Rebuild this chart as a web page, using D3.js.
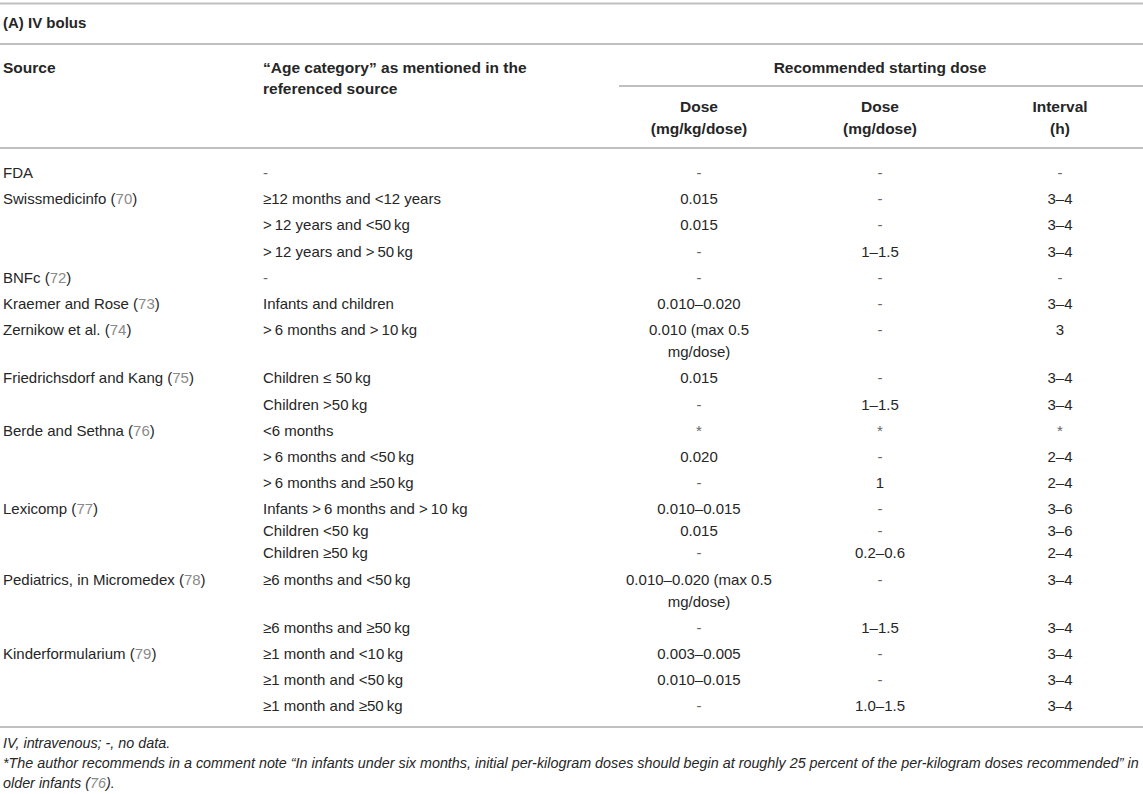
<!DOCTYPE html>
<html>
<head>
<meta charset="utf-8">
<script src="https://cdn.jsdelivr.net/npm/d3@7"></script>
<style>
  html, body { margin: 0; padding: 0; background: #fff; }
  svg { display: block; }
  text { font-family: "Liberation Sans", Arial, Helvetica, sans-serif; }
</style>
</head>
<body>
<svg id="chart" width="1143" height="794"></svg>
<script>
// ---- data ----
const title = "(A) IV bolus";
const headerSource = ["Source"];
const headerAge = ["\u201CAge category\u201D as mentioned in the", "referenced source"];
const headerGroup = "Recommended starting dose";
const headerCols = [["Dose", "(mg/kg/dose)"], ["Dose", "(mg/dose)"], ["Interval", "(h)"]];

// source names and reference numbers (only on first sub-row of each source)
const sourceNames = ["FDA", "Swissmedicinfo", "", "", "BNFc", "Kraemer and Rose", "Zernikow et al.",
  "Friedrichsdorf and Kang", "", "Berde and Sethna", "", "", "Lexicomp", "Pediatrics, in Micromedex", "",
  "Kinderformularium", "", ""];
const sourceRefs = ["", "70", "", "", "72", "73", "74", "75", "", "76", "", "", "77", "78", "", "79", "", ""];
const ageCategories = [
  ["-"],
  ["\u226512 months and <12 years"],
  [">\u200912 years and <50\u2009kg"],
  [">\u200912 years and >\u200950\u2009kg"],
  ["-"],
  ["Infants and children"],
  [">\u20096 months and >\u200910\u2009kg"],
  ["Children \u2264 50\u2009kg"],
  ["Children >50\u2009kg"],
  ["<6 months"],
  [">\u20096 months and <50\u2009kg"],
  [">\u20096 months and \u226550\u2009kg"],
  ["Infants >\u20096 months and >\u200910 kg", "Children <50 kg", "Children \u226550 kg"],
  ["\u22656 months and <50\u2009kg"],
  ["\u22656 months and \u226550\u2009kg"],
  ["\u22651 month and <10\u2009kg"],
  ["\u22651 month and <50\u2009kg"],
  ["\u22651 month and \u226550\u2009kg"]
];
const dosePerKg = [
  ["-"], ["0.015"], ["0.015"], ["-"], ["-"], ["0.010\u20130.020"], ["0.010 (max 0.5", "mg/dose)"],
  ["0.015"], ["-"], ["*"], ["0.020"], ["-"], ["0.010\u20130.015", "0.015", "-"],
  ["0.010\u20130.020 (max 0.5", "mg/dose)"], ["-"], ["0.003\u20130.005"], ["0.010\u20130.015"], ["-"]
];
const dosePerDose = [
  ["-"], ["-"], ["-"], ["1\u20131.5"], ["-"], ["-"], ["-"],
  ["-"], ["1\u20131.5"], ["*"], ["-"], ["1"], ["-", "-", "0.2\u20130.6"],
  ["-"], ["1\u20131.5"], ["-"], ["-"], ["1.0\u20131.5"]
];
const intervals = [
  ["-"], ["3\u20134"], ["3\u20134"], ["3\u20134"], ["-"], ["3\u20134"], ["3"],
  ["3\u20134"], ["3\u20134"], ["*"], ["2\u20134"], ["2\u20134"], ["3\u20136", "3\u20136", "2\u20134"],
  ["3\u20134"], ["3\u20134"], ["3\u20134"], ["3\u20134"], ["3\u20134"]
];
const footnote1 = "IV, intravenous; -, no data.";
const footnote2 = "*The author recommends in a comment note \u201CIn infants under six months, initial per-kilogram doses should begin at roughly 25 percent of the per-kilogram doses recommended\u201D in";
const footnote3a = "older infants (";
const footnote3ref = "76";
const footnote3b = ").";

// ---- layout ----
const W = 1143, H = 794;
const svg = d3.select("#chart");
const textColor = "#262626";
const refColor = "#8a8a8a";
const ruleColor = "#c0c0c0";
const fs = 15;
const hfs = 15.5;

const colKeys = ["source", "age", "kg", "mg", "interval"];
const colX = d3.scaleOrdinal().domain(colKeys).range([3, 263, 699, 880, 1060]);
const colAnchor = d3.scaleOrdinal().domain(colKeys).range(["start", "start", "middle", "middle", "middle"]);

// row positions: cumulative line units
const lineCounts = ageCategories.map((a, i) => Math.max(a.length, dosePerKg[i].length, dosePerDose[i].length, intervals[i].length));
const rowUnits = [];
let acc = 0;
lineCounts.forEach(n => { rowUnits.push(acc); acc += 26.2 + 22 * (n - 1); });
const y = d3.scaleLinear().domain([0, 1]).range([172.5, 173.5]);
const subLine = 22;

function rule(y0, x0 = 0, x1 = W) {
  svg.append("line").attr("x1", x0).attr("x2", x1).attr("y1", y0).attr("y2", y0)
    .attr("stroke", ruleColor).attr("stroke-width", 2);
}
function txt(x, yc, s, opts = {}) {
  return svg.append("text").attr("x", x).attr("y", yc).attr("dy", "0.36em")
    .attr("font-size", opts.size || fs)
    .attr("font-weight", opts.bold ? "bold" : "normal")
    .attr("font-style", opts.italic ? "italic" : "normal")
    .attr("text-anchor", opts.anchor || "start")
    .attr("fill", opts.fill || textColor)
    .text(s);
}

// rules
rule(3.5);
rule(44);
rule(86, 619, W);
rule(148);
rule(727);

// title
txt(3, 23, title, { bold: true, size: 15 });

// headers
headerSource.forEach((s, i) => txt(colX("source"), 67 + i * 21.5, s, { bold: true, size: hfs }));
headerAge.forEach((s, i) => txt(colX("age"), 67 + i * 21.5, s, { bold: true, size: hfs }));
txt(colX("mg"), 67, headerGroup, { bold: true, anchor: "middle", size: hfs });
["kg", "mg", "interval"].forEach((k, ci) => {
  headerCols[ci].forEach((s, li) => txt(colX(k), 106 + li * 22.5, s, { bold: true, anchor: "middle", size: hfs }));
});

// body
const rows = d3.range(sourceNames.length);
rows.forEach(i => {
  const yc = y(rowUnits[i]);
  if (sourceNames[i]) {
    const t = txt(colX("source"), yc, null);
    t.append("tspan").text(sourceNames[i]);
    if (sourceRefs[i]) {
      t.append("tspan").text(" (");
      t.append("tspan").attr("fill", refColor).text(sourceRefs[i]);
      t.append("tspan").text(")");
    }
  }
  const cells = [["age", ageCategories[i]], ["kg", dosePerKg[i]], ["mg", dosePerDose[i]], ["interval", intervals[i]]];
  cells.forEach(([k, lines]) => {
    lines.forEach((s, li) => {
      txt(colX(k), yc + li * subLine, s, { anchor: colAnchor(k), fill: s === "-" || s === "*" ? "#666" : textColor });
    });
  });
});

// footnotes
const ffs = 14.35;
txt(3, 743, footnote1, { italic: true, size: ffs });
txt(3, 763, footnote2, { italic: true, size: ffs });
const f3 = txt(3, 783, null, { italic: true, size: ffs });
f3.append("tspan").text(footnote3a);
f3.append("tspan").attr("fill", refColor).text(footnote3ref);
f3.append("tspan").text(footnote3b);
</script>
</body>
</html>
